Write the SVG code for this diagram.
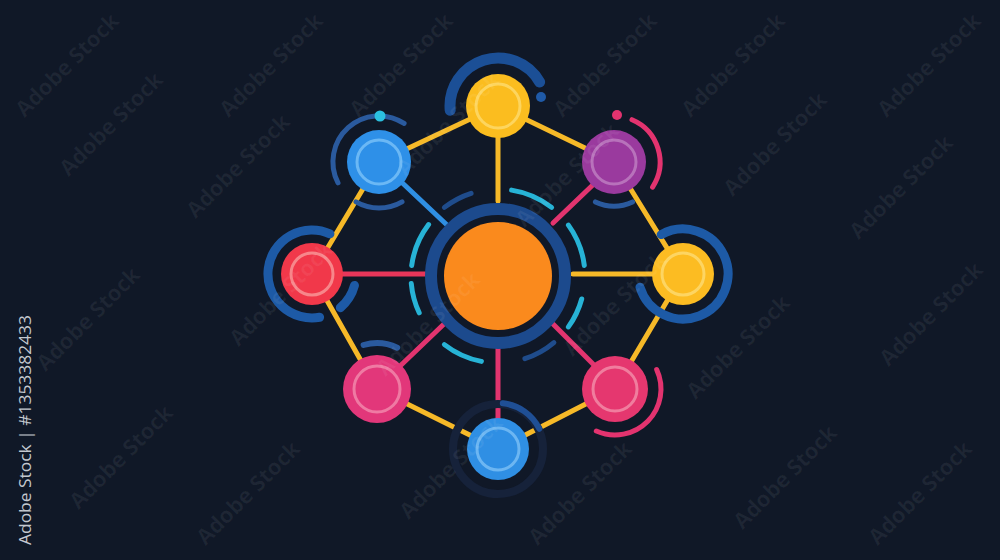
<svg xmlns="http://www.w3.org/2000/svg" width="1000" height="560" viewBox="0 0 1000 560">
<style>
.edge{stroke:#f6b928;stroke-width:5;stroke-linecap:round;fill:none}
.sp{stroke-width:5;stroke-linecap:round;fill:none}
.arc{fill:none;stroke-linecap:round}
.inner{fill:none;stroke-width:3}
.wm{font-family:"Open Sans","Liberation Sans",sans-serif;font-weight:bold;font-size:22px;fill:#ffffff;fill-opacity:0.06;text-anchor:middle;dominant-baseline:central}
.id{font-family:"Open Sans","Liberation Sans",sans-serif;font-size:17px;fill:#c4c8cf}
</style>
<rect width="1000" height="560" fill="#101827"/>

<g id="connectors">
  <line class="edge" x1="498" y1="106" x2="379" y2="162"/>
  <line class="edge" x1="498" y1="106" x2="614" y2="162"/>
  <line class="edge" x1="379" y1="162" x2="312" y2="274"/>
  <line class="edge" x1="614" y1="162" x2="683" y2="274"/>
  <line class="edge" x1="312" y1="274" x2="377" y2="389"/>
  <line class="edge" x1="683" y1="274" x2="615" y2="389"/>
  <line class="edge" x1="377" y1="389" x2="498" y2="449"/>
  <line class="edge" x1="615" y1="389" x2="498" y2="449"/>
  <line class="sp" stroke="#f6b928" x1="498" y1="130" x2="498" y2="201"/>
  <line class="sp" stroke="#2f8fe3" x1="395" y1="176" x2="447" y2="225"/>
  <line class="sp" stroke="#e2346f" x1="598" y1="180" x2="553" y2="223"/>
  <line class="sp" stroke="#e8365a" x1="335" y1="274" x2="425" y2="274"/>
  <line class="sp" stroke="#f6b928" x1="573" y1="274" x2="660" y2="274"/>
  <line class="sp" stroke="#e2346f" x1="445" y1="323" x2="398" y2="368"/>
  <line class="sp" stroke="#e2346f" x1="498" y1="347" x2="498" y2="425"/>
  <line class="sp" stroke="#e2346f" x1="552" y1="323" x2="597" y2="368"/>
</g>

<g id="hub">
  <circle cx="498" cy="276" r="67" fill="none" stroke="#1c4a8d" stroke-width="12"/>
  <circle cx="498" cy="276" r="54" fill="#fa8a1d"/>
  <path class="arc" stroke="#1f4c8c" stroke-width="5" d="M444.4,207.4 A87,87 0 0 1 471.1,193.3"/>
  <path class="arc" stroke="#27b3d6" stroke-width="5" d="M511.6,190.1 A87,87 0 0 1 551.6,207.4"/>
  <path class="arc" stroke="#27b3d6" stroke-width="5" d="M568.4,225.1 A87,87 0 0 1 584.3,265.4"/>
  <path class="arc" stroke="#27b3d6" stroke-width="5" d="M581.7,299.0 A87,87 0 0 1 568.4,326.9"/>
  <path class="arc" stroke="#1f4c8c" stroke-width="5" d="M553.9,342.6 A87,87 0 0 1 524.9,358.7"/>
  <path class="arc" stroke="#27b3d6" stroke-width="5" d="M481.4,361.4 A87,87 0 0 1 444.4,344.6"/>
  <path class="arc" stroke="#27b3d6" stroke-width="5" d="M419.2,312.8 A87,87 0 0 1 411.3,283.6"/>
  <path class="arc" stroke="#27b3d6" stroke-width="5" d="M411.7,265.4 A87,87 0 0 1 428.6,224.6"/>
</g>

<g id="node-top">
  <path class="arc" stroke="#1b4f96" stroke-width="11" d="M450.2,110.2 A48,48 0 0 1 539.6,82"/>
  <circle cx="541" cy="97" r="5" fill="#1f5aa8"/>
  <circle cx="498" cy="106" r="32" fill="#fbbd1f"/>
  <circle class="inner" cx="498" cy="106" r="22" stroke="#fdd55e"/>
</g>

<g id="node-top-left">
  <path class="arc" stroke="#2a5a9e" stroke-width="5" d="M338,182.9 A46,46 0 0 1 404.1,123.4"/>
  <path class="arc" stroke="#2a5a9e" stroke-width="5" d="M402,201.8 A46,46 0 0 1 356,201.8"/>
  <circle cx="380" cy="116" r="5.5" fill="#2bc0e0"/>
  <circle cx="379" cy="162" r="32" fill="#2e90e8"/>
  <circle class="inner" cx="379" cy="162" r="22" stroke="#6bb8f5"/>
</g>

<g id="node-top-right">
  <path class="arc" stroke="#e3336f" stroke-width="5" d="M632,119.7 A46,46 0 0 1 652.6,187.1"/>
  <path class="arc" stroke="#2a5a9e" stroke-width="5" d="M632.6,201.9 A44,44 0 0 1 595.4,201.9"/>
  <circle cx="617" cy="115" r="5" fill="#e3336f"/>
  <circle cx="614" cy="162" r="32" fill="#9a3a9e"/>
  <circle class="inner" cx="614" cy="162" r="22" stroke="#b872bb"/>
</g>

<g id="node-left">
  <path class="arc" stroke="#1d5aa6" stroke-width="9" d="M319.6,317.3 A44,44 0 1 1 329.9,233.8"/>
  <path class="arc" stroke="#1d5aa6" stroke-width="9" d="M354.5,285.4 A44,44 0 0 1 340.3,307.7"/>
  <circle cx="312" cy="274" r="31" fill="#f1384a"/>
  <circle class="inner" cx="312" cy="274" r="21" stroke="#f7868a"/>
</g>

<g id="node-right">
  <path class="arc" stroke="#1d5aa6" stroke-width="9" d="M661.2,234.6 A45,45 0 1 1 640,287.2"/>
  <circle cx="683" cy="274" r="31" fill="#fcbc22"/>
  <circle class="inner" cx="683" cy="274" r="21" stroke="#fdd562"/>
</g>

<g id="node-bottom-left">
  <path class="arc" stroke="#2a5a9e" stroke-width="6" d="M363.6,345 A46,46 0 0 1 397.2,347.7"/>
  <circle cx="377" cy="389" r="34" fill="#e2377a"/>
  <circle class="inner" cx="377" cy="389" r="23" stroke="#ef7aa3"/>
</g>

<g id="node-bottom-right">
  <path class="arc" stroke="#e3336f" stroke-width="5" d="M656.7,369.6 A46,46 0 0 1 596.3,431"/>
  <circle cx="615" cy="389" r="33" fill="#e5376f"/>
  <circle class="inner" cx="615" cy="389" r="22" stroke="#f07d9e"/>
</g>

<g id="node-bottom">
  <circle cx="498" cy="449" r="45" fill="none" stroke="#16223a" stroke-width="8"/>
  <path class="arc" stroke="#1f4f95" stroke-width="6" d="M502.8,403.3 A46,46 0 0 1 539.3,428.8"/>
  <circle cx="498" cy="449" r="31" fill="#2f8fe4"/>
  <circle class="inner" cx="498" cy="449" r="21" stroke="#6cb6f2"/>
</g>

<g id="watermarks">
  <text class="wm" transform="translate(110,123) rotate(-45)">Adobe Stock</text>
  <text class="wm" transform="translate(237,165) rotate(-45)">Adobe Stock</text>
  <text class="wm" transform="translate(66,64) rotate(-45)">Adobe Stock</text>
  <text class="wm" transform="translate(270,64) rotate(-45)">Adobe Stock</text>
  <text class="wm" transform="translate(400,64) rotate(-45)">Adobe Stock</text>
  <text class="wm" transform="translate(87,318) rotate(-45)">Adobe Stock</text>
  <text class="wm" transform="translate(120,456) rotate(-45)">Adobe Stock</text>
  <text class="wm" transform="translate(247,492) rotate(-45)">Adobe Stock</text>
  <text class="wm" transform="translate(280,293) rotate(-45)">Adobe Stock</text>
  <text class="wm" transform="translate(450,466) rotate(-45)">Adobe Stock</text>
  <text class="wm" transform="translate(427,323) rotate(-45)">Adobe Stock</text>
  <text class="wm" transform="translate(614,303) rotate(-45)">Adobe Stock</text>
  <text class="wm" transform="translate(737,346) rotate(-45)">Adobe Stock</text>
  <text class="wm" transform="translate(784,476) rotate(-45)">Adobe Stock</text>
  <text class="wm" transform="translate(930,313) rotate(-45)">Adobe Stock</text>
  <text class="wm" transform="translate(919,492) rotate(-45)">Adobe Stock</text>
  <text class="wm" transform="translate(579,492) rotate(-45)">Adobe Stock</text>
  <text class="wm" transform="translate(732,64) rotate(-45)">Adobe Stock</text>
  <text class="wm" transform="translate(774,143) rotate(-45)">Adobe Stock</text>
  <text class="wm" transform="translate(900,186) rotate(-45)">Adobe Stock</text>
  <text class="wm" transform="translate(928,64) rotate(-45)">Adobe Stock</text>
  <text class="wm" transform="translate(604,64) rotate(-45)">Adobe Stock</text>
  <text class="wm" transform="translate(447,123) rotate(-45)">Adobe Stock</text>
  <text class="wm" transform="translate(566,174) rotate(-45)">Adobe Stock</text>
  <text class="id" transform="translate(31,545) rotate(-90)" textLength="230" lengthAdjust="spacingAndGlyphs">Adobe Stock | #1353382433</text>
</g>
</svg>
